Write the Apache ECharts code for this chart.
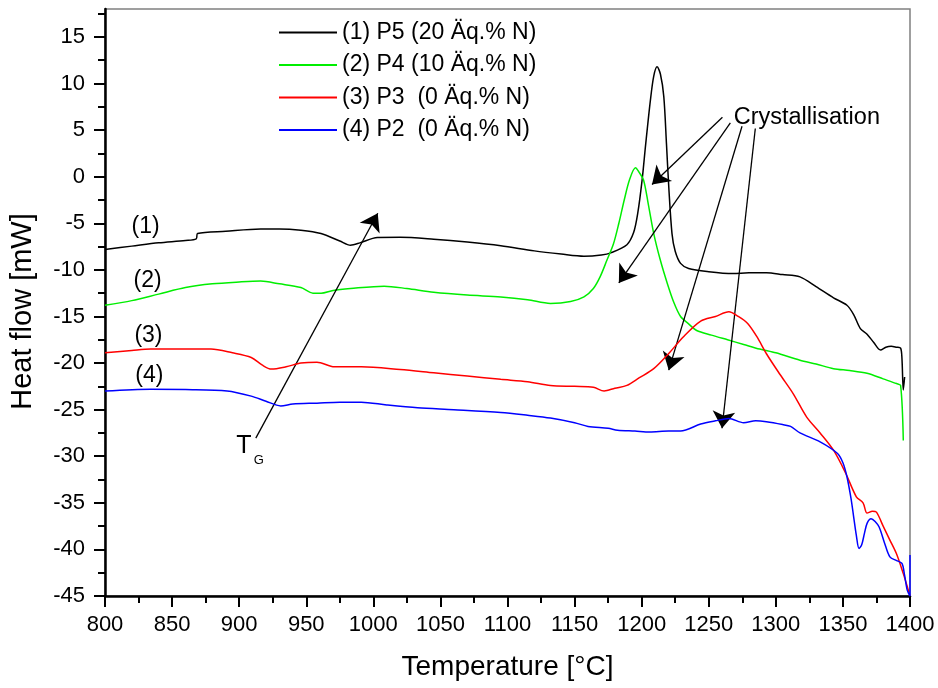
<!DOCTYPE html>
<html>
<head>
<meta charset="utf-8">
<script src="https://cdn.jsdelivr.net/npm/echarts@6/dist/echarts.min.js"></script>
<style>html,body{margin:0;padding:0;background:#fff}#c{width:938px;height:688px}</style>
</head>
<body>
<div id="c"></div>
<script>
// ---- data (Temperature °C, Heat flow mW) ----
const seriesNames = ['(1) P5 (20 Äq.% N)', '(2) P4 (10 Äq.% N)', '(3) P3  (0 Äq.% N)', '(4) P2  (0 Äq.% N)'];
const xTicks = [800, 850, 900, 950, 1000, 1050, 1100, 1150, 1200, 1250, 1300, 1350, 1400];
const yTicks = [-45, -40, -35, -30, -25, -20, -15, -10, -5, 0, 5, 10, 15];
const yMinorTicks = [-42.5, -37.5, -32.5, -27.5, -22.5, -17.5, -12.5, -7.5, -2.5, 2.5, 7.5, 12.5, 17.5];

const p5 = [[800,-7.8],[820,-7.45],[840,-7.1],[860,-6.85],[868,-6.67],[869,-6.1],[890,-5.85],[916,-5.6],[930,-5.6],[946,-5.74],[961,-6.1],[975,-6.9],[983,-7.35],[990,-7.1],[1003,-6.52],[1020,-6.5],[1045,-6.7],[1070,-7.0],[1095,-7.4],[1120,-7.96],[1140,-8.3],[1157,-8.53],[1170,-8.4],[1177,-8.17],[1189,-7.3],[1194,-6.0],[1197,-4.0],[1200.3,-0.4],[1203,3.5],[1206.5,8.2],[1209,10.8],[1211.5,11.8],[1214,11.0],[1216.5,8.6],[1218.5,3.5],[1220.2,-1.1],[1222.6,-6.1],[1225,-8.0],[1229,-9.3],[1235,-9.85],[1250,-10.2],[1268,-10.4],[1280,-10.3],[1293,-10.3],[1305,-10.5],[1318,-10.75],[1330,-11.8],[1343,-13.0],[1353,-13.8],[1358,-14.8],[1363,-16.3],[1368,-16.9],[1373,-17.8],[1378,-18.6],[1382,-18.3],[1386,-18.2],[1390,-18.3],[1393,-18.4],[1394,-19.5],[1395,-22.9],[1396,-21.5]];
const p4 = [[800,-13.8],[820,-13.3],[840,-12.6],[860,-11.9],[880,-11.5],[900,-11.3],[916,-11.2],[930,-11.5],[946,-11.9],[955,-12.5],[961,-12.5],[970,-12.2],[983,-12.0],[1008,-11.75],[1025,-12.0],[1045,-12.4],[1070,-12.7],[1095,-12.9],[1115,-13.2],[1132,-13.6],[1147,-13.4],[1157,-12.9],[1164,-12.0],[1169,-10.75],[1174,-9.0],[1179,-7.2],[1183,-5.0],[1187,-2.5],[1191,-0.3],[1195.4,0.95],[1198,0.5],[1201.5,-0.4],[1205,-3.0],[1209,-6.1],[1214,-9.0],[1219,-11.4],[1224,-13.5],[1229,-15.0],[1235,-15.8],[1241,-16.5],[1252,-17.0],[1264,-17.5],[1276,-18.0],[1288,-18.5],[1300,-18.9],[1318,-19.7],[1330,-20.1],[1343,-20.6],[1355,-20.8],[1368,-21.1],[1380,-21.7],[1390,-22.2],[1393,-22.4],[1395,-28.3]];
const p3 = [[800,-18.9],[820,-18.65],[834,-18.5],[860,-18.5],[879,-18.5],[895,-18.9],[909,-19.4],[917,-20.2],[924,-20.65],[935,-20.4],[946,-20.0],[958,-19.9],[971,-20.4],[991,-20.4],[1020,-20.7],[1045,-21.05],[1070,-21.4],[1095,-21.75],[1115,-22.0],[1132,-22.4],[1150,-22.5],[1164,-22.6],[1172,-23.0],[1180,-22.7],[1189,-22.4],[1198,-21.6],[1209,-20.6],[1220,-19.0],[1231,-17.2],[1244,-15.5],[1255,-15.0],[1265,-14.5],[1272,-15.0],[1279,-15.75],[1286,-17.2],[1293,-19.0],[1303,-21.2],[1313,-23.3],[1323,-25.8],[1333,-27.5],[1343,-29.35],[1352,-31.8],[1360,-34.35],[1365,-35.0],[1368,-36.1],[1372,-35.9],[1375,-36.0],[1380,-37.5],[1385,-39.0],[1390,-40.5],[1395,-42.6],[1398,-44.0],[1400,-45]];
const p2 = [[800,-23.0],[834,-22.8],[860,-22.85],[891,-23.0],[909,-23.55],[920,-24.1],[931,-24.6],[940,-24.4],[958,-24.3],[975,-24.2],[991,-24.2],[1010,-24.5],[1033,-24.8],[1060,-25.0],[1095,-25.3],[1115,-25.6],[1132,-25.9],[1150,-26.4],[1160,-26.8],[1175,-27.0],[1182,-27.2],[1195,-27.3],[1206,-27.4],[1220,-27.3],[1229,-27.3],[1244,-26.55],[1255,-26.2],[1265,-25.95],[1276,-26.4],[1285,-26.2],[1293,-26.3],[1305,-26.6],[1311,-26.8],[1318,-27.5],[1333,-28.45],[1346,-29.7],[1350,-30.7],[1353,-32.2],[1356,-34.5],[1358,-36.5],[1360,-38.5],[1362,-39.9],[1364,-39.5],[1366,-38.3],[1368,-37.2],[1371,-36.7],[1374,-37.0],[1377,-37.6],[1381,-39.3],[1385,-40.8],[1390,-41.2],[1394,-41.5],[1396,-42.8],[1398,-44.4],[1400,-45],[1400,-40.6]];

// annotation arrows: [from, to] in data coordinates
const arrows = [
  [[912.4,-28.06],[1003.3,-3.92]],
  [[1260.2,6.38],[1207.7,-0.84]],
  [[1266.1,5.79],[1183.0,-11.4]],
  [[1274.8,5.42],[1220.2,-20.76]],
  [[1284.7,5.17],[1259.9,-27.0]]
];
const notes = [
  {t:830.3, v:-5.31, text:'(1)', size:23, align:'center'},
  {t:831.8, v:-11.18, text:'(2)', size:23, align:'center'},
  {t:832.4, v:-17.08, text:'(3)', size:23, align:'center'},
  {t:833.1, v:-21.37, text:'(4)', size:23, align:'center'},
  {t:903.5, v:-28.9, text:'T', size:25, align:'center'},
  {t:914.7, v:-30.4, text:'G', size:13, align:'center'},
  {t:1268.6, v:6.3, text:'Crystallisation', size:23.5, align:'left'}
];

const FONT = 'Arial, "Liberation Sans", sans-serif';
const colors = ['#000000', '#00ee00', '#ff0000', '#0000ff'];
const datasets = [p5, p4, p3, p2];

const chart = echarts.init(document.getElementById('c'), null, {renderer: 'canvas'});

const series = datasets.map((d, i) => ({
  name: seriesNames[i],
  type: 'line',
  data: d,
  symbol: 'none',
  showSymbol: false,
  smooth: 0.3,
  clip: true,
  lineStyle: {color: colors[i], width: 1.5},
  itemStyle: {color: colors[i]},
  z: 3 + i
}));
series.push({
  type: 'line',
  data: [],
  silent: true,
  markLine: {
    silent: true,
    symbol: ['none', 'arrow'],
    symbolSize: 17,
    label: {show: false},
    lineStyle: {color: '#000', width: 1.3, type: 'solid'},
    emphasis: {disabled: true},
    animation: false,
    data: arrows.map(a => [{coord: a[0]}, {coord: a[1]}])
  }
});

const plainNum = v => String(v);

chart.setOption({
  animation: false,
  backgroundColor: '#fff',
  grid: {left: 104, right: 28, top: 9, bottom: 92, show: true, borderColor: '#808080', borderWidth: 1.5, backgroundColor: 'transparent'},
  legend: {
    orient: 'vertical',
    left: 279, top: 21, padding: 0,
    icon: 'rect',
    itemWidth: 58, itemHeight: 2, itemGap: 9.5,
    data: seriesNames,
    textStyle: {fontFamily: FONT, fontSize: 23, color: '#000', lineHeight: 22},
    selectedMode: false
  },
  xAxis: {
    type: 'value', min: 800, max: 1400, interval: 50,
    name: 'Temperature [°C]', nameLocation: 'middle', nameGap: 57,
    nameTextStyle: {fontFamily: FONT, fontSize: 28, color: '#000'},
    axisLine: {onZero: false, lineStyle: {color: '#000', width: 2.5}},
    axisTick: {show: true, length: 11, lineStyle: {color: '#000', width: 2}},
    minorTick: {show: true, splitNumber: 2, length: 7, lineStyle: {color: '#000', width: 2}},
    axisLabel: {fontFamily: FONT, fontSize: 22, color: '#000', margin: 18,
      customValues: xTicks, formatter: plainNum},
    splitLine: {show: false}
  },
  yAxis: [{
    type: 'value', min: -45, max: 18, interval: 5,
    name: 'Heat flow [mW]', nameLocation: 'middle', nameGap: 68,
    nameTextStyle: {fontFamily: FONT, fontSize: 29, color: '#000', padding: [0, 18, 0, 0]},
    axisLine: {onZero: false, lineStyle: {color: '#000', width: 2.5}},
    axisTick: {show: true, length: 11, lineStyle: {color: '#000', width: 2}, customValues: yTicks},
    axisLabel: {fontFamily: FONT, fontSize: 22, color: '#000', margin: 20, customValues: yTicks, formatter: plainNum},
    splitLine: {show: false}
  }, {
    type: 'value', min: -45, max: 18, position: 'left',
    axisLine: {show: false},
    axisTick: {show: true, length: 7, lineStyle: {color: '#000', width: 2}, customValues: yMinorTicks},
    axisLabel: {show: false},
    splitLine: {show: false}
  }],
  series: series
});

chart.setOption({
  graphic: notes.map(n => {
    const p = chart.convertToPixel({xAxisIndex: 0, yAxisIndex: 0}, [n.t, n.v]);
    return {
      type: 'text', x: p[0], y: p[1], silent: true, z: 100,
      style: {text: n.text, fontFamily: FONT, fontSize: n.size, fill: '#000', align: n.align, verticalAlign: 'middle'}
    };
  })
});
</script>
</body>
</html>
